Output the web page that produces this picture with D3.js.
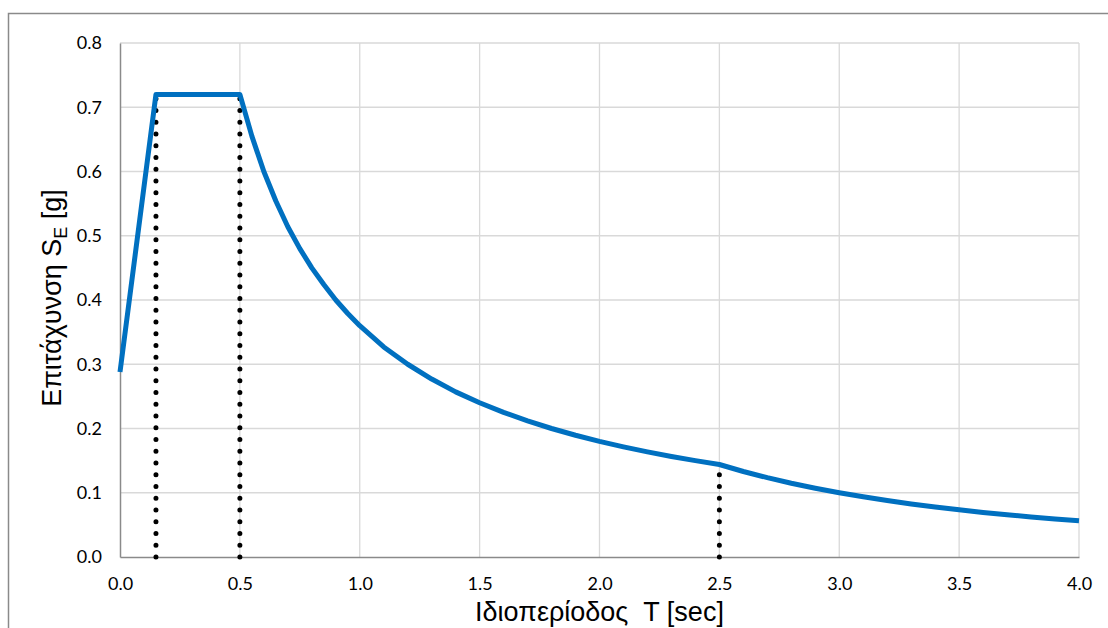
<!DOCTYPE html>
<html>
<head>
<meta charset="utf-8">
<script src="https://cdn.jsdelivr.net/npm/d3@7"></script>
<style>
  body { margin: 0; background: #fff; }
</style>
</head>
<body>
<div id="chart"></div>
<script>
// Data
const periods = [0, 0.15, 0.5, 0.55, 0.6, 0.65, 0.7, 0.75, 0.8, 0.85, 0.9, 0.95, 1.0,
  1.1, 1.2, 1.3, 1.4, 1.5, 1.6, 1.7, 1.8, 1.9, 2.0, 2.1, 2.2, 2.3, 2.4, 2.5,
  2.6, 2.7, 2.8, 2.9, 3.0, 3.1, 3.2, 3.3, 3.4, 3.5, 3.6, 3.7, 3.8, 3.9, 4.0];
const accel = [0.288, 0.72, 0.72, 0.655, 0.6, 0.554, 0.514, 0.48, 0.45, 0.424, 0.4, 0.379, 0.36,
  0.327, 0.3, 0.277, 0.257, 0.24, 0.225, 0.212, 0.2, 0.1895, 0.18, 0.1714, 0.1636, 0.1565, 0.15, 0.144,
  0.1331, 0.1235, 0.1148, 0.107, 0.1, 0.0937, 0.0879, 0.0826, 0.0779, 0.0735, 0.0694, 0.0657, 0.0623, 0.0592, 0.0563];
const markerT = [0.15, 0.5, 2.5];
const markerTop = [0.72, 0.72, 0.137];
const xTicks = [0, 0.5, 1.0, 1.5, 2.0, 2.5, 3.0, 3.5, 4.0];
const yTicks = [0, 0.1, 0.2, 0.3, 0.4, 0.5, 0.6, 0.7, 0.8];

const svgWidth = 1108, svgHeight = 628;
const plotLeft = 120, plotRight = 1079, plotTop = 43, plotBottom = 557;

const svg = d3.select("#chart").append("svg")
  .attr("width", svgWidth)
  .attr("height", svgHeight);

// outer frame
svg.append("rect")
  .attr("x", 8.5).attr("y", 13.5)
  .attr("width", 1200).attr("height", 700)
  .attr("fill", "none")
  .attr("stroke", "#8a8a8a")
  .attr("stroke-width", 1.5);

const x = d3.scaleLinear().domain([0, 4]).range([plotLeft, plotRight]);
const y = d3.scaleLinear().domain([0, 0.8]).range([plotBottom, plotTop]);

// gridlines
svg.append("g")
  .selectAll("line").data(xTicks.slice(1)).enter().append("line")
  .attr("x1", d => x(d)).attr("x2", d => x(d))
  .attr("y1", plotTop).attr("y2", plotBottom)
  .attr("stroke", "#d9d9d9").attr("stroke-width", 1.3);
svg.append("g")
  .selectAll("line").data(yTicks.slice(1)).enter().append("line")
  .attr("x1", plotLeft).attr("x2", plotRight)
  .attr("y1", d => y(d)).attr("y2", d => y(d))
  .attr("stroke", "#d9d9d9").attr("stroke-width", 1.3);

// axes
const xAxisG = svg.append("g")
  .attr("transform", "translate(0," + plotBottom + ")")
  .call(d3.axisBottom(x).tickValues(xTicks).tickFormat(d3.format(".1f")).tickSize(0).tickPadding(20));
const yAxisG = svg.append("g")
  .attr("transform", "translate(" + plotLeft + ",0)")
  .call(d3.axisLeft(y).tickValues(yTicks).tickFormat(d3.format(".1f")).tickSize(0).tickPadding(18));
[xAxisG, yAxisG].forEach(g => {
  g.attr("font-size", 18).attr("font-family", "Lato, 'Open Sans', sans-serif");
  g.selectAll("text").attr("fill", "#000");
  g.select(".domain").attr("stroke", "#8a8a8a").attr("stroke-width", 1.5);
});

// dotted guides
svg.append("g")
  .selectAll("line").data(markerT).enter().append("line")
  .attr("x1", d => x(d)).attr("x2", d => x(d))
  .attr("y1", y(0)).attr("y2", (d, i) => y(markerTop[i]))
  .attr("stroke", "#000")
  .attr("stroke-width", 5)
  .attr("stroke-linecap", "round")
  .attr("stroke-dasharray", "0,11.75");

// spectrum
const pts = periods.map((t, i) => [t, accel[i]]);
svg.append("path")
  .datum(pts)
  .attr("fill", "none")
  .attr("stroke", "#0070c0")
  .attr("stroke-width", 5)
  .attr("stroke-linejoin", "round")
  .attr("d", d3.line().x(d => x(d[0])).y(d => y(d[1])));

// axis titles
svg.append("text")
  .attr("x", (plotLeft + plotRight) / 2)
  .attr("y", 621)
  .attr("text-anchor", "middle")
  .style("font-family", "'Liberation Sans', Arial, sans-serif")
  .style("font-size", "27px")
  .style("white-space", "pre")
  .text("Ιδιοπερίοδος  T [sec]");

const yTitle = svg.append("text")
  .attr("transform", "translate(61,298) rotate(-90)")
  .attr("text-anchor", "middle")
  .style("font-family", "'Liberation Sans', Arial, sans-serif")
  .style("font-size", "27px");
yTitle.append("tspan").text("Επιτάχυνση S");
yTitle.append("tspan").attr("dy", 6).style("font-size", "18px").text("E");
yTitle.append("tspan").attr("dy", -6).text(" [g]");
</script>
</body>
</html>
